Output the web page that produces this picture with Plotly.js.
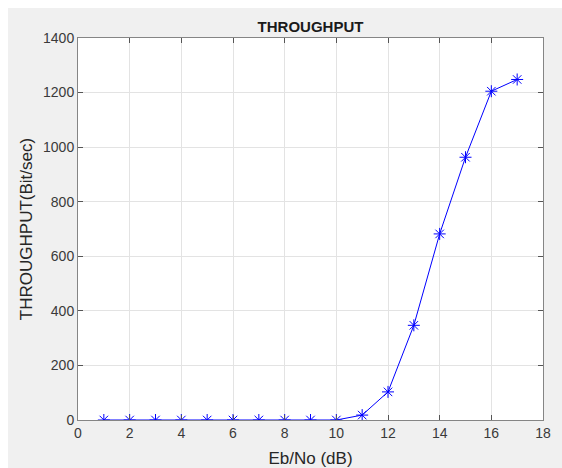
<!DOCTYPE html>
<html>
<head>
<meta charset="utf-8">
<script src="https://cdn.plot.ly/plotly-3.0.1.min.js"></script>
<style>
html,body{margin:0;padding:0;background:#ffffff;}
#chart{position:absolute;left:8px;top:8px;width:554px;height:460px;}
</style>
</head>
<body>
<div id="chart"></div>
<script>
const ebNo = [1,2,3,4,5,6,7,8,9,10,11,12,13,14,15,16,17];
const throughput = [0,0,0,0,0,0,0,0,0,0,18,103,347,682,963,1205,1248];
const xTicks = [0,2,4,6,8,10,12,14,16,18];
const yTicks = [0,200,400,600,800,1000,1200,1400];

const axisCommon = {
  showline: true, linecolor: '#858585', linewidth: 1, mirror: 'ticks',
  ticks: 'inside', ticklen: 5, tickcolor: '#555555', tickwidth: 1,
  showgrid: true, gridcolor: '#e3e3e3', gridwidth: 1, zeroline: false,
  tickfont: {family: 'Liberation Sans, Arial, sans-serif', size: 14, color: '#3a3a3a'}
};

const trace = {
  x: ebNo, y: throughput, type: 'scatter', mode: 'lines+markers',
  line: {color: '#0000ff', width: 1},
  marker: {symbol: 'asterisk-open', size: 10, color: '#0000ff', line: {color: '#0000ff', width: 1}}
};

const layout = {
  width: 554, height: 460,
  paper_bgcolor: '#f0f0f0', plot_bgcolor: '#ffffff',
  margin: {l: 70, r: 19, t: 30, b: 48},
  showlegend: false,
  title: {text: '<b>THROUGHPUT</b>', x: 0.5, xref: 'paper', y: 1, yref: 'paper', yanchor: 'bottom', pad: {b: 6},
    font: {family: 'Liberation Sans, Arial, sans-serif', size: 15, color: '#1a1a1a'}},
  xaxis: Object.assign({}, axisCommon, {
    range: [0, 18], tickvals: xTicks, ticktext: xTicks.map(String),
    title: {text: 'Eb/No (dB)', standoff: 12, font: {family: 'Liberation Sans, Arial, sans-serif', size: 17, color: '#262626'}}
  }),
  yaxis: Object.assign({}, axisCommon, {
    range: [0, 1400], tickvals: yTicks, ticktext: yTicks.map(String),
    title: {text: 'THROUGHPUT(Bit/sec)', standoff: 6, font: {family: 'Liberation Sans, Arial, sans-serif', size: 17, color: '#262626'}}
  })
};

Plotly.newPlot('chart', [trace], layout, {displayModeBar: false, staticPlot: true});
</script>
</body>
</html>
